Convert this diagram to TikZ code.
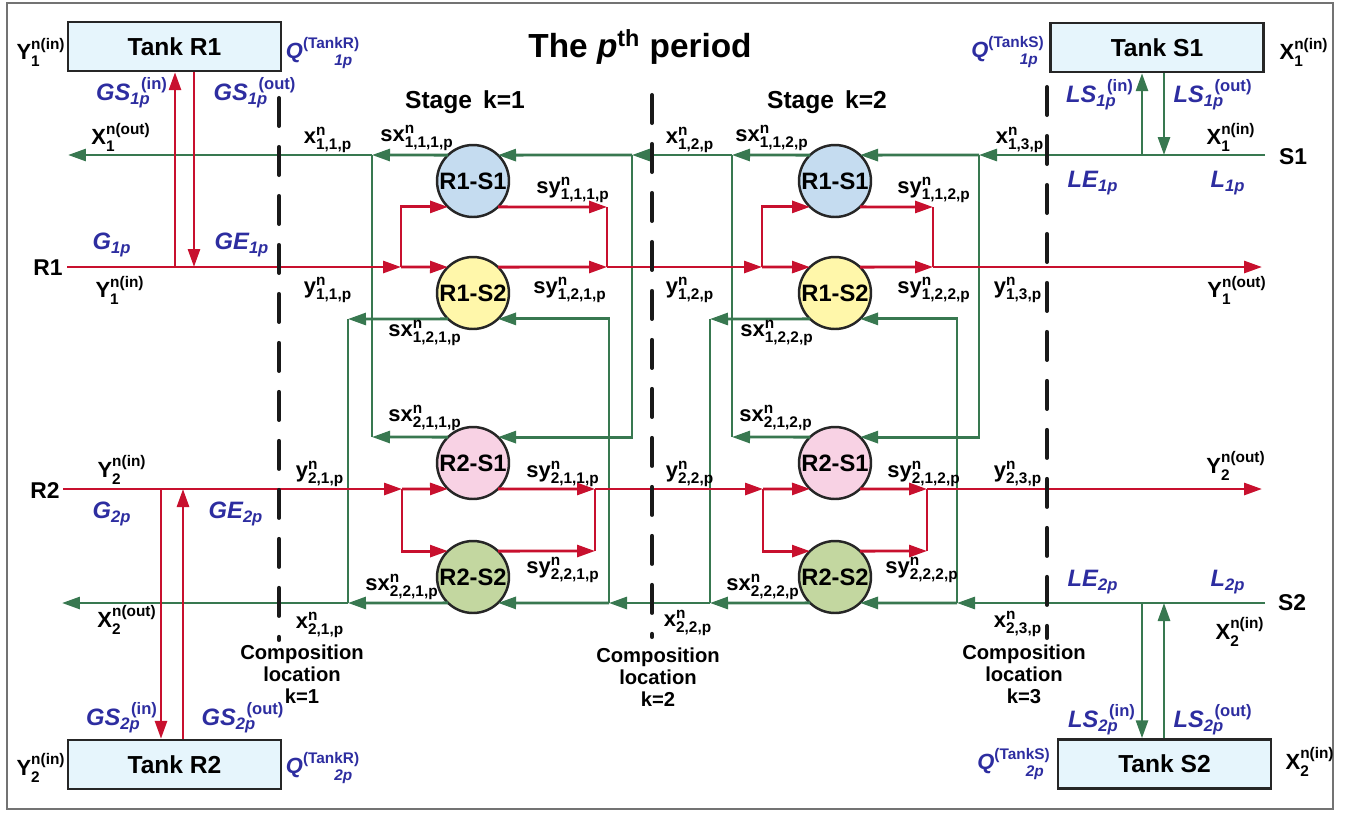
\documentclass[tikz,border=0pt]{standalone}
\usepackage{amsmath}
\usepackage{fontspec}
\setmainfont{Liberation Sans}
\usepackage{xcolor}
\usepackage{tikz}
\usetikzlibrary{positioning, arrows.meta}
\definecolor{FlowRed}{RGB}{200,16,46}
\definecolor{FlowGreen}{RGB}{56,120,80}
\definecolor{LabBlue}{RGB}{45,45,160}
\definecolor{TankFill}{RGB}{230,245,252}
\definecolor{CellBlue}{RGB}{197,220,240}
\definecolor{CellYellow}{RGB}{255,247,170}
\definecolor{CellPink}{RGB}{248,210,228}
\definecolor{CellGreen}{RGB}{195,215,160}
\newcommand{\flab}[3]{$\text{#1}^{\text{#2}}_{\text{#3}}$}
\newcommand{\qlab}[3]{${\text{#1}_{\text{#3}}}^{\kern-0.4em\text{\upshape #2}}$}
\newcommand{\tlab}[4]{$\text{#1}^{\text{\upshape #2}}_{\hphantom{\text{\upshape #3}}\text{#4}}$}
\newcommand{\qsub}[2]{$\text{#1}_{\text{#2}}$}
\tikzset{
  tank/.style={draw=black!85, line width=1.4pt, fill=TankFill, minimum width=4.26cm,
    minimum height=0.98cm, inner sep=0pt, font=\fontsize{14}{16}\selectfont\bfseries},
  unit/.style={circle, draw=black!85, line width=1.4pt, minimum size=1.44cm, inner sep=0pt,
    outer sep=0pt, font=\fontsize{13.5}{15}\selectfont\bfseries},
  rln/.style={FlowRed, line width=1.6pt},
  gln/.style={FlowGreen, line width=1.6pt},
  rarr/.style={rln, -{Triangle[length=0.36cm, width=0.24cm]}},
  garr/.style={gln, -{Triangle[length=0.36cm, width=0.24cm]}},
  flow/.style={font=\fontsize{12.5}{14}\selectfont\bfseries, inner sep=0pt},
  qty/.style={font=\fontsize{13.5}{16}\selectfont\bfseries\itshape, text=LabBlue, inner sep=0pt},
  qtank/.style={qty, font=\fontsize{12.5}{14}\selectfont\bfseries\itshape},
  side/.style={font=\fontsize{13}{15}\selectfont\bfseries, inner sep=0pt},
  complab/.style={font=\fontsize{11.5}{12.5}\selectfont\bfseries, align=center, inner sep=0pt},
  divline/.style={black!90, line width=2.3pt, dash pattern=on 0.56cm off 0.42cm, line cap=round},
}
\begin{document}
\begin{tikzpicture}[x=0.02cm, y=-0.02cm]
  \useasboundingbox (0,0) rectangle (1346,812);
  \draw[black!55, line width=1.2pt] (7,3) rectangle (1333,809);
  \node[tank] (tr1) at (174.5,46.5) {Tank R1};
  \node[tank] (tr2) at (174.5,764.5) {Tank R2};
  \node[tank] (ts1) at (1157,47.5) {Tank S1};
  \node[tank] (ts2) at (1164.5,764) {Tank S2};
  \foreach \s/\x in {1/473, 2/835} {
    \node[unit, fill=CellBlue] (a\s) at (\x,181) {R1-S1};
    \node[unit, fill=CellYellow] (b\s) at (\x,293) {R1-S2};
    \node[unit, fill=CellPink] (c\s) at (\x,463) {R2-S1};
    \node[unit, fill=CellGreen] (d\s) at (\x,577) {R2-S2};
  }
  % S1 side stream
  \coordinate (xs1) at (1265,155);
  \coordinate (x13) at (979,155);
  \coordinate (x12m) at (732,155);  \coordinate (x12md) at (732,437);
  \coordinate (x12) at (632,155);
  \coordinate (x11m) at (372,155);  \coordinate (x11md) at (372,437);
  \coordinate (x1out) at (68,155);
  \draw[garr] (xs1) -- (x13);
  \draw[garr] (x13) -- (a2.46);
  \draw[garr] (x13) |- (c2.46);
  \draw[garr] (a2.134) -- (x12m);
  \draw[garr] (c2.134) -- (x12md);
  \draw[gln] (x12md) -- (x12m);
  \draw[garr] (x12m) -- (x12);
  \draw[garr] (x12) -- (a1.46);
  \draw[garr] (x12) |- (c1.46);
  \draw[garr] (a1.134) -- (x11m);
  \draw[garr] (c1.134) -- (x11md);
  \draw[gln] (x11md) -- (x11m);
  \draw[garr] (x11m) -- (x1out);
  % S2 side stream
  \coordinate (xs2) at (1265,603);
  \coordinate (x23) at (957,603);
  \coordinate (x22m) at (710,603);  \coordinate (x22mu) at (710,319);
  \coordinate (x22) at (609,603);
  \coordinate (x21m) at (348,603);  \coordinate (x21mu) at (348,319);
  \coordinate (x2out) at (62,603);
  \draw[garr] (xs2) -- (x23);
  \draw[garr] (x23) -- (d2.-46);
  \draw[garr] (x23) |- (b2.-46);
  \draw[garr] (d2.-134) -- (x22m);
  \draw[garr] (b2.-134) -- (x22mu);
  \draw[gln] (x22mu) -- (x22m);
  \draw[garr] (x22m) -- (x22);
  \draw[garr] (x22) -- (d1.-46);
  \draw[garr] (x22) |- (b1.-46);
  \draw[garr] (d1.-134) -- (x21m);
  \draw[garr] (b1.-134) -- (x21mu);
  \draw[gln] (x21mu) -- (x21m);
  \draw[garr] (x21m) -- (x2out);
  % R1 stream
  \coordinate (yr1) at (67,267);
  \coordinate (y11) at (401,267);
  \coordinate (y12m) at (607,267);  \coordinate (y12mu) at (607,207);
  \coordinate (y12) at (762,267);
  \coordinate (y13m) at (933,267);  \coordinate (y13mu) at (933,207);
  \coordinate (y1out) at (1262,267);
  \draw[rarr] (yr1) -- (y11);
  \draw[rarr] (y11) -- (b1.134);
  \draw[rarr] (y11) |- (a1.-134);
  \draw[rarr] (a1.-46) -- (y12mu);
  \draw[rarr] (b1.46) -- (y12m);
  \draw[rln] (y12mu) -- (y12m);
  \draw[rarr] (y12m) -- (y12);
  \draw[rarr] (y12) -- (b2.134);
  \draw[rarr] (y12) |- (a2.-134);
  \draw[rarr] (a2.-46) -- (y13mu);
  \draw[rarr] (b2.46) -- (y13m);
  \draw[rln] (y13mu) -- (y13m);
  \draw[rarr] (y13m) -- (y1out);
  % R2 stream
  \coordinate (yr2) at (63,489);
  \coordinate (y21) at (402,489);
  \coordinate (y22m) at (595,489);  \coordinate (y22md) at (595,551);
  \coordinate (y22) at (763,489);
  \coordinate (y23m) at (927,489);  \coordinate (y23md) at (927,551);
  \coordinate (y2out) at (1262,489);
  \draw[rarr] (yr2) -- (y21);
  \draw[rarr] (y21) -- (c1.-134);
  \draw[rarr] (y21) |- (d1.134);
  \draw[rarr] (c1.-46) -- (y22m);
  \draw[rarr] (d1.46) -- (y22md);
  \draw[rln] (y22md) -- (y22m);
  \draw[rarr] (y22m) -- (y22);
  \draw[rarr] (y22) -- (c2.-134);
  \draw[rarr] (y22) |- (d2.134);
  \draw[rarr] (c2.-46) -- (y23m);
  \draw[rarr] (d2.46) -- (y23md);
  \draw[rln] (y23md) -- (y23m);
  \draw[rarr] (y23m) -- (y2out);
  % tanks
  \coordinate (g1in) at (175,267);   \coordinate (g1out) at (194,267);
  \coordinate (g2in) at (161,489);   \coordinate (g2out) at (183,489);
  \coordinate (l1in) at (1142,155);  \coordinate (l1out) at (1164,155);
  \coordinate (l2in) at (1142,603);  \coordinate (l2out) at (1164,603);
  \draw[rarr] (g1in) -- (g1in |- tr1.south);
  \draw[rarr] (g1out |- tr1.south) -- (g1out);
  \draw[rarr] (g2in) -- (g2in |- tr2.north);
  \draw[rarr] (g2out |- tr2.north) -- (g2out);
  \draw[garr] (l1in) -- (l1in |- ts1.south);
  \draw[garr] (l1out |- ts1.south) -- (l1out);
  \draw[garr] (l2in) -- (l2in |- ts2.north);
  \draw[garr] (l2out |- ts2.north) -- (l2out);
  % composition locations
  \coordinate (cl1t) at (279,98);   \coordinate (cl1b) at (279,640);
  \coordinate (cl2t) at (652,95);   \coordinate (cl2b) at (652,637);
  \coordinate (cl3t) at (1047,87);  \coordinate (cl3b) at (1047,638);
  \draw[divline] (cl1t) -- (cl1b);
  \draw[divline] (cl2t) -- (cl2b);
  \draw[divline] (cl3t) -- (cl3b);
  \node[complab] (cmp1) at (302,674) {Composition\\location\\k=1};
  \node[complab] (cmp2) at (658,677) {Composition\\location\\k=2};
  \node[complab] (cmp3) at (1024,674) {Composition\\location\\k=3};
  \node[font=\fontsize{19}{22}\selectfont\bfseries] (ttl) at (640,47) {The \textit{p}\textsuperscript{th} period};
  \node[font=\fontsize{14}{16}\selectfont\bfseries] (stg1) at (465,102) {Stage\hspace{0.45em}k=1};
  \node[font=\fontsize{14}{16}\selectfont\bfseries] (stg2) at (827,102) {Stage\hspace{0.45em}k=2};
  \node[side] (sr1) at (48,268) {R1};
  \node[side] (sr2) at (45,491) {R2};
  \node[side] (ss1) at (1293,157) {S1};
  \node[side] (ss2) at (1292,603) {S2};
  % stream labels
  \node[flow] (fy1a) at (41,52) {\flab{Y}{n(in)}{1}};
  \node[flow] (fx1o) at (121,137) {\flab{X}{n(out)}{1}};
  \node[flow] (fx11) at (328,140) {\flab{x}{n}{1,1,p}};
  \node[flow] (fsx111) at (417,138) {\flab{sx}{n}{1,1,1,p}};
  \node[flow] (fy1b) at (120,290) {\flab{Y}{n(in)}{1}};
  \node[flow] (fy11) at (328,290) {\flab{y}{n}{1,1,p}};
  \node[flow] (fsy111) at (573,190) {\flab{sy}{n}{1,1,1,p}};
  \node[flow] (fsy121) at (570,290) {\flab{sy}{n}{1,2,1,p}};
  \node[flow] (fsx121) at (425,333) {\flab{sx}{n}{1,2,1,p}};
  \node[flow] (fx12) at (690,140) {\flab{x}{n}{1,2,p}};
  \node[flow] (fsx112) at (772,138) {\flab{sx}{n}{1,1,2,p}};
  \node[flow] (fy12) at (690,290) {\flab{y}{n}{1,2,p}};
  \node[flow] (fsy112) at (934,190) {\flab{sy}{n}{1,1,2,p}};
  \node[flow] (fsy122) at (934,290) {\flab{sy}{n}{1,2,2,p}};
  \node[flow] (fsx122) at (777,333) {\flab{sx}{n}{1,2,2,p}};
  \node[flow] (fx13) at (1020,140) {\flab{x}{n}{1,3,p}};
  \node[flow] (fy13) at (1018,290) {\flab{y}{n}{1,3,p}};
  \node[flow] (fx1a) at (1304,52) {\flab{X}{n(in)}{1}};
  \node[flow] (fx1b) at (1231,137) {\flab{X}{n(in)}{1}};
  \node[flow] (fy1o) at (1237,290) {\flab{Y}{n(out)}{1}};
  \node[flow] (fsx211) at (425,418) {\flab{sx}{n}{2,1,1,p}};
  \node[flow] (fsx212) at (776,418) {\flab{sx}{n}{2,1,2,p}};
  \node[flow] (fy2b) at (122,470) {\flab{Y}{n(in)}{2}};
  \node[flow] (fy21) at (320,474) {\flab{y}{n}{2,1,p}};
  \node[flow] (fsy211) at (563,474) {\flab{sy}{n}{2,1,1,p}};
  \node[flow] (fy22) at (690,474) {\flab{y}{n}{2,2,p}};
  \node[flow] (fsy212) at (924,474) {\flab{sy}{n}{2,1,2,p}};
  \node[flow] (fy23) at (1018,474) {\flab{y}{n}{2,3,p}};
  \node[flow] (fy2o) at (1236,466) {\flab{Y}{n(out)}{2}};
  \node[flow] (fsy221) at (563,570) {\flab{sy}{n}{2,2,1,p}};
  \node[flow] (fsy222) at (922,570) {\flab{sy}{n}{2,2,2,p}};
  \node[flow] (fsx221) at (402,587) {\flab{sx}{n}{2,2,1,p}};
  \node[flow] (fsx222) at (763,587) {\flab{sx}{n}{2,2,2,p}};
  \node[flow] (fx2o) at (127,620) {\flab{X}{n(out)}{2}};
  \node[flow] (fx21) at (320,625) {\flab{x}{n}{2,1,p}};
  \node[flow] (fx22) at (688,623) {\flab{x}{n}{2,2,p}};
  \node[flow] (fx23) at (1018,624) {\flab{x}{n}{2,3,p}};
  \node[flow] (fx2b) at (1240,632) {\flab{X}{n(in)}{2}};
  \node[flow] (fx2a) at (1310,762) {\flab{X}{n(in)}{2}};
  \node[flow] (fy2a) at (41,768) {\flab{Y}{n(in)}{2}};
  % quantities
  \node[qtank] (qr1) at (323,53) {\tlab{Q}{(TankR)}{(Tan}{1p}};
  \node[qtank] (qr2) at (323,768) {\tlab{Q}{(TankR)}{(Tan}{2p}};
  \node[qtank] (qs1) at (1008,52) {\tlab{Q}{(TankS)}{(Tan}{1p}};
  \node[qtank] (qs2) at (1014,764) {\tlab{Q}{(TankS)}{(Tan}{2p}};
  \node[qty] (gs1i) at (132,93) {\qlab{GS}{(in)}{1p}};
  \node[qty] (gs1o) at (255,93) {\qlab{GS}{(out)}{1p}};
  \node[qty] (gs2i) at (122,718) {\qlab{GS}{(in)}{2p}};
  \node[qty] (gs2o) at (243,718) {\qlab{GS}{(out)}{2p}};
  \node[qty] (ls1i) at (1100,95) {\qlab{LS}{(in)}{1p}};
  \node[qty] (ls1o) at (1213,95) {\qlab{LS}{(out)}{1p}};
  \node[qty] (ls2i) at (1102,720) {\qlab{LS}{(in)}{2p}};
  \node[qty] (ls2o) at (1213,720) {\qlab{LS}{(out)}{2p}};
  \node[qty] (g1) at (112,245) {\qsub{G}{1p}};
  \node[qty] (ge1) at (242,245) {\qsub{GE}{1p}};
  \node[qty] (g2) at (112,514) {\qsub{G}{2p}};
  \node[qty] (ge2) at (236,514) {\qsub{GE}{2p}};
  \node[qty] (le1) at (1093,183) {\qsub{LE}{1p}};
  \node[qty] (l1) at (1228,183) {\qsub{L}{1p}};
  \node[qty] (le2) at (1093,582) {\qsub{LE}{2p}};
  \node[qty] (l2) at (1228,582) {\qsub{L}{2p}};
\end{tikzpicture}
\end{document}
